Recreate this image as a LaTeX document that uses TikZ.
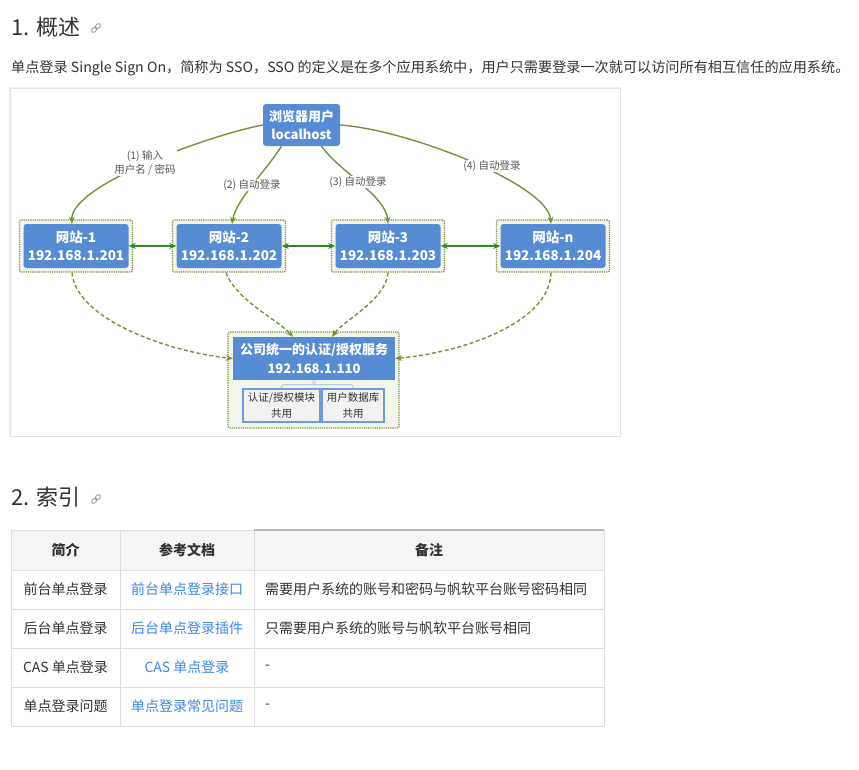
\documentclass[tikz,border=0pt]{standalone}
\usepackage{fontspec}
\setmainfont{Noto Sans CJK SC}
\usetikzlibrary{arrows.meta}

\definecolor{txt}{HTML}{333333}
\definecolor{lbl}{HTML}{555555}
\definecolor{nodeblue}{HTML}{568CD4}
\definecolor{olivearr}{HTML}{76923C}
\definecolor{peergreen}{HTML}{2E8B1E}
\definecolor{boxfill}{HTML}{F1F5EA}
\definecolor{rulegray}{HTML}{DDDDDD}
\definecolor{headbg}{HTML}{F5F5F5}
\definecolor{linkblue}{HTML}{3C87F0}
\definecolor{subedge}{HTML}{6E9CDA}
\definecolor{subfill}{HTML}{F2F2F2}

\tikzset{
  sitebox/.style={draw=olivearr, densely dotted, line width=1.2pt, fill=boxfill,
    rounded corners=2pt, minimum width=113pt, minimum height=52pt, inner sep=0pt},
  site/.style={fill=nodeblue, rounded corners=3pt, text=white, align=center,
    minimum width=105pt, minimum height=44pt, inner sep=0pt,
    font=\fontsize{13.5}{18}\selectfont\bfseries},
  steplabel/.style={fill=white, text=lbl, align=center, inner sep=1pt,
    font=\fontsize{10.5}{14}\selectfont},
  userarr/.style={draw=olivearr, line width=1.4pt, -{Stealth[length=7pt, width=6pt]}},
  peerarr/.style={draw=peergreen, line width=1.4pt, {Stealth[length=7pt, width=6pt]}-{Stealth[length=7pt, width=6pt]}},
  autharr/.style={draw=olivearr, line width=1.4pt, dash pattern=on 4pt off 2.5pt, -{Stealth[length=7pt, width=6pt]}},
  subbox/.style={draw=subedge, line width=1.3pt, fill=subfill, align=center,
    inner sep=0pt, text=txt, font=\fontsize{10.5}{16}\selectfont},
  cell/.style={text=txt, font=\fontsize{14}{17}\selectfont},
  linkcell/.style={text=linkblue, font=\fontsize{14}{17}\selectfont},
  headcell/.style={text=txt, font=\fontsize{14}{17}\selectfont\bfseries},
  heading/.style={anchor=west, text=txt, inner sep=0pt, font=\fontsize{22}{26}\selectfont},
  linkicon/.style={draw=gray!75, line width=0.9pt, rounded corners=1.6pt}
}

\begin{document}
\begin{tikzpicture}[x=1pt, y=-1pt]
  \fill[white] (0,0) rectangle (859,769);
  \useasboundingbox (0,0) rectangle (859,769);

  % overview heading and text
  \node[heading] (h1) at (11,27) {1. 概述};
  \begin{scope}[shift={(96,28)}, rotate=45]
    \draw[linkicon] (-5.5,-1.9) rectangle (0.6,1.9);
    \draw[linkicon] (-0.6,-1.9) rectangle (5.5,1.9);
  \end{scope}
  \node[anchor=west, inner sep=0pt, text=txt, font=\fontsize{14.15}{17}\selectfont] (intro) at (11,68)
    {单点登录 Single Sign On，简称为 SSO，SSO 的定义是在多个应用系统中，用户只需要登录一次就可以访问所有相互信任的应用系统。};

  % diagram card
  \draw[draw=gray!12, line width=2pt] (10,88) rectangle (620,436);
  \draw[draw=gray!22, fill=white] (10,88) rectangle (620,436);

  % browser
  \node[site, minimum width=77pt, minimum height=42pt, font=\fontsize{13}{18}\selectfont\bfseries] (br) at (301.5,125) {浏览器用户\\localhost};

  % sites
  \node[sitebox] (o1) at (76,246) {};
  \node[sitebox] (o2) at (229,246) {};
  \node[sitebox] (o3) at (388,246) {};
  \node[sitebox] (on) at (553,246) {};
  \node[site] (s1) at (76,246) {网站-1\\192.168.1.201};
  \node[site] (s2) at (229,246) {网站-2\\192.168.1.202};
  \node[site] (s3) at (388,246) {网站-3\\192.168.1.203};
  \node[site] (sn) at (553,246) {网站-n\\192.168.1.204};

  % central auth service
  \draw[draw=olivearr, densely dotted, line width=1.2pt, fill=boxfill, rounded corners=2pt] (228,332) rectangle (399,428);
  \node[site, rounded corners=0pt, minimum width=162pt, minimum height=43pt, font=\fontsize{13}{19}\selectfont\bfseries] (cb) at (314,358.5) {公司统一的认证/授权服务\\192.168.1.110};
  \node[subbox, minimum width=77pt, minimum height=33pt] (ca) at (281.5,405.5) {认证/授权模块\\共用};
  \node[subbox, minimum width=62pt, minimum height=33pt] (cd) at (353,405.5) {用户数据库\\共用};
  \draw[subedge!70, line width=0.6pt] (cb.south) -- ++(0,4.5) coordinate (hub);
  \draw[subedge!70, line width=0.6pt, rounded corners=1.5pt] (ca.north) |- (hub) -| (cd.north);
  \draw[subedge!60, fill=white, line width=0.5pt] (cb.south) ++(0,2) circle (1.6pt);

  % browser to sites
  \draw[userarr] (br.west) .. controls (210,135) and (70,185) .. ([xshift=-4pt]s1.north);
  \draw[userarr] ([xshift=-20pt]br.south) .. controls (265,172) and (236,200) .. ([xshift=3pt]s2.north);
  \draw[userarr] ([xshift=20pt]br.south) .. controls (340,172) and (386,196) .. (s3.north);
  \draw[userarr] (br.east) .. controls (410,130) and (548,185) .. ([xshift=-2pt]sn.north);
  \node[steplabel] (l1) at (145,163) {(1) 输入\\用户名 / 密码};
  \node[steplabel] (l2) at (252,185) {(2) 自动登录};
  \node[steplabel] (l3) at (358,182) {(3) 自动登录};
  \node[steplabel] (l4) at (492,166) {(4) 自动登录};

  % site to site
  \draw[peerarr] (s1.east) -- (s2.west);
  \draw[peerarr] (s2.east) -- (s3.west);
  \draw[peerarr] (s3.east) -- (sn.west);

  % sites to auth service
  \draw[autharr] ([xshift=-4pt]o1.south) .. controls (76,320) and (170,352) .. (cb.west);
  \draw[autharr] ([xshift=-3pt]o2.south) .. controls (236,300) and (278,320) .. ([xshift=-21pt]cb.north);
  \draw[autharr] (o3.south) .. controls (386,300) and (344,320) .. ([xshift=18pt]cb.north);
  \draw[autharr] ([xshift=-2pt]on.south) .. controls (550,322) and (465,352) .. (cb.east);

  % index heading
  \node[heading] (h2) at (11,497) {2. 索引};
  \begin{scope}[shift={(96,499)}, rotate=45]
    \draw[linkicon] (-5.5,-1.9) rectangle (0.6,1.9);
    \draw[linkicon] (-0.6,-1.9) rectangle (5.5,1.9);
  \end{scope}

  % table
  \fill[headbg] (11,530) rectangle (604,570);
  \draw[rulegray, line width=0.8pt] (11,530) rectangle (604,726);
  \foreach \y in {570,609,648,687}
    \draw[rulegray, line width=0.8pt] (11,\y) -- (604,\y);
  \foreach \x in {120,254}
    \draw[rulegray, line width=0.8pt] (\x,530) -- (\x,726);
  \draw[gray!55, line width=1.6pt] (254,530) -- (604,530);

  \node[headcell] (t01) at (65.5,550) {简介};
  \node[headcell] (t02) at (187,550) {参考文档};
  \node[headcell] (t03) at (429,550) {备注};

  \node[cell] (t11) at (65.5,589) {前台单点登录};
  \node[linkcell] (t12) at (187,589) {前台单点登录接口};
  \node[cell, anchor=west, inner sep=0pt] (t13) at (265,589) {需要用户系统的账号和密码与帆软平台账号密码相同};

  \node[cell] (t21) at (65.5,628) {后台单点登录};
  \node[linkcell] (t22) at (187,628) {后台单点登录插件};
  \node[cell, anchor=west, inner sep=0pt] (t23) at (265,628) {只需要用户系统的账号与帆软平台账号相同};

  \node[cell] (t31) at (65.5,667) {CAS 单点登录};
  \node[linkcell] (t32) at (187,667) {CAS 单点登录};
  \node[cell, anchor=west, inner sep=0pt] (t33) at (265,667) {-};

  \node[cell] (t41) at (65.5,706) {单点登录问题};
  \node[linkcell] (t42) at (187,706) {单点登录常见问题};
  \node[cell, anchor=west, inner sep=0pt] (t43) at (265,706) {-};
\end{tikzpicture}
\end{document}
